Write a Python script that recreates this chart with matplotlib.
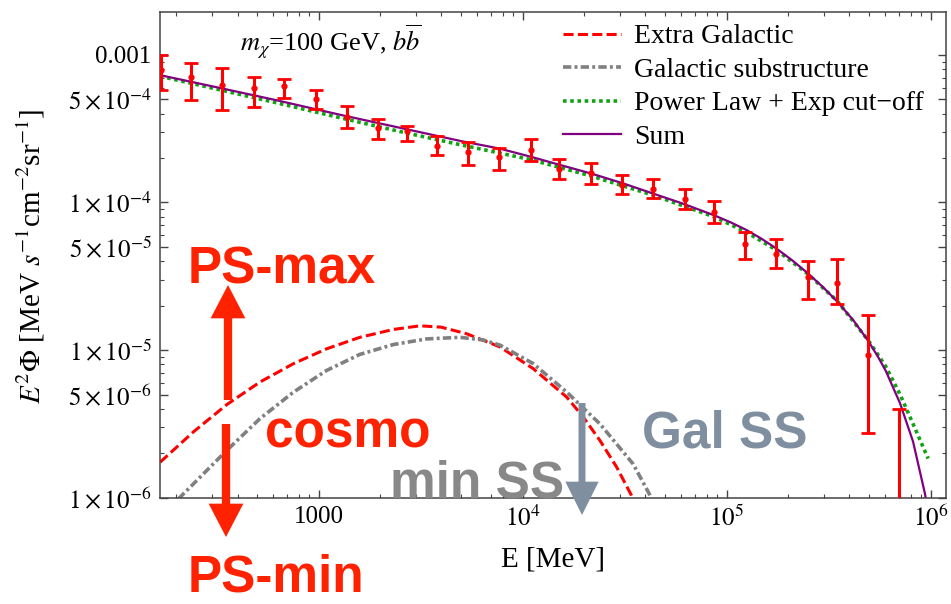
import numpy as np
import matplotlib
matplotlib.use('Agg')
import matplotlib.pyplot as plt
from matplotlib.ticker import FixedLocator, LogLocator, NullFormatter

plt.rcParams['font.family'] = ['Liberation Serif', 'DejaVu Serif']
plt.rcParams['mathtext.fontset'] = 'stix'

# IGRB data points (E in MeV, E^2 Phi and the ends of the error bars)
energy = [169, 237, 334, 480, 677, 966, 1377, 1946, 2709, 3802, 5413, 7674, 10940,
          15100, 21680, 30760, 43650, 62230, 86900, 123000, 174600, 251300, 346000,
          491000, 701000]
flux = [7.87e-4, 7.06e-4, 6.23e-4, 5.92e-4, 6.13e-4, 5.01e-4, 3.78e-4, 3.20e-4, 3.03e-4,
        2.40e-4, 2.21e-4, 2.03e-4, 2.26e-4, 1.68e-4, 1.59e-4, 1.32e-4, 1.24e-4, 1.05e-4,
        8.68e-5, 5.21e-5, 4.50e-5, 3.13e-5, 2.86e-5, 9.31e-6, 5.0e-7]
flux_lo = [5.76e-4, 4.98e-4, 4.20e-4, 4.44e-4, 5.11e-4, 4.28e-4, 3.17e-4, 2.67e-4, 2.59e-4,
           2.08e-4, 1.80e-4, 1.65e-4, 1.90e-4, 1.44e-4, 1.34e-4, 1.14e-4, 1.08e-4, 9.09e-5,
           7.26e-5, 4.12e-5, 3.60e-5, 2.23e-5, 2.04e-5, 2.75e-6, 1.0e-8]
flux_hi = [9.95e-4, 8.85e-4, 8.12e-4, 7.06e-4, 6.84e-4, 5.76e-4, 4.47e-4, 3.65e-4, 3.27e-4,
           2.83e-4, 2.55e-4, 2.34e-4, 2.68e-4, 1.96e-4, 1.86e-4, 1.53e-4, 1.44e-4, 1.24e-4,
           1.03e-4, 6.31e-5, 5.66e-5, 4.01e-5, 4.14e-5, 1.73e-5, 3.96e-6]

# model curves
eg_E = [167, 243, 354, 515, 752, 1094, 1592, 2323, 3141, 3981, 5309, 7745, 11272,
        16444, 19815, 23933, 28907, 34834, 41687]
eg_flux = [1.74e-6, 2.79e-6, 4.27e-6, 6.07e-6, 8.09e-6, 1.02e-5, 1.22e-5, 1.38e-5, 1.46e-5,
           1.43e-5, 1.29e-5, 1.05e-5, 7.48e-6, 4.80e-6, 3.52e-6, 2.44e-6, 1.61e-6, 9.84e-7,
           5.6e-7]

gal_E = [178, 205, 243, 354, 515, 752, 1094, 1592, 2323, 3381, 4932, 6412, 7745, 11272,
         16444, 23933, 34834, 42073, 47863]
gal_flux = [8.1e-7, 9.8e-7, 1.24e-6, 2.09e-6, 3.43e-6, 5.19e-6, 7.28e-6, 9.35e-6, 1.09e-5,
            1.19e-5, 1.22e-5, 1.17e-5, 1.08e-5, 8.09e-6, 5.19e-6, 3.16e-6, 1.69e-6, 1.04e-6,
            7.1e-7]

pl_E = [167, 316, 631, 1259, 2512, 5012, 10965, 21677, 43652, 87096, 124451, 176604,
        247742, 347536, 493174, 602560, 707946, 820352, 972747]
pl_flux = [7.16e-4, 5.86e-4, 4.71e-4, 3.76e-4, 3.02e-4, 2.45e-4, 1.95e-4, 1.51e-4, 1.12e-4,
           7.98e-5, 6.31e-5, 4.73e-5, 3.31e-5, 2.16e-5, 1.17e-5, 7.76e-6, 5.01e-6, 3.16e-6,
           1.84e-6]

sum_E = [167, 316, 631, 1259, 2512, 5012, 7674, 10965, 15136, 21677, 30903, 43652, 61660,
         87096, 104713, 124451, 147911, 176604, 208930, 247742, 295121, 347536, 416869,
         493174, 549541, 602560, 707946, 820352, 937562, 1047129]
sum_flux = [7.28e-4, 6.03e-4, 4.90e-4, 3.94e-4, 3.20e-4, 2.60e-4, 2.32e-4, 2.04e-4, 1.80e-4,
            1.57e-4, 1.35e-4, 1.148e-4, 9.77e-5, 8.17e-5, 7.33e-5, 6.53e-5, 5.69e-5, 4.84e-5,
            4.07e-5, 3.35e-5, 2.69e-5, 2.14e-5, 1.60e-5, 1.16e-5, 9.12e-6, 7.24e-6, 4.37e-6,
            2.40e-6, 1.07e-6, 4.47e-7]

yticks = [1e-6, 5e-6, 1e-5, 5e-5, 1e-4, 5e-4, 1e-3]
yticklabels = [r'$1\times10^{-6}$', r'$5\times10^{-6}$', r'$1\times10^{-5}$', r'$5\times10^{-5}$',
               r'$1\times10^{-4}$', r'$5\times10^{-4}$', '0.001']
xticks = [1e3, 1e4, 1e5, 1e6]
xticklabels = ['1000', r'$10^4$', r'$10^5$', r'$10^6$']

W, H = 951, 604


def fxy(x, y):
    # pixel position (from top left) -> figure fraction
    return x / W, 1 - y / H


def main():
    fig = plt.figure(figsize=(W / 100, H / 100), dpi=100)
    ax = fig.add_axes([160 / W, 1 - 497.7 / H, 786 / W, 485.7 / H])
    ax.set_xscale('log')
    ax.set_yscale('log')

    ax.plot(eg_E, eg_flux, color='red', lw=2.2, ls=(0, (3.3, 1.4)), label='Extra Galactic')
    ax.plot(gal_E, gal_flux, color='#808080', lw=2.6, ls=(0, (2.3, 0.9, 0.8, 0.9)),
            label='Galactic substructure')
    ax.plot(pl_E, pl_flux, color='#12a312', lw=2.6, ls=(0, (1, 1)),
            label='Power Law + Exp cut\u2212off')
    ax.plot(sum_E, sum_flux, color='#800080', lw=1.6, label='Sum')

    f = np.array(flux)
    yerr = [f - np.array(flux_lo), np.array(flux_hi) - f]
    ax.errorbar(energy, flux, yerr=yerr, fmt='o', ms=3.5, color='red', ecolor='red',
                elinewidth=2.2, capsize=5, capthick=2, zorder=5)

    ax.set_xlim(166.7, 1.19e6)
    ax.set_ylim(1e-6, 1.95e-3)
    ax.xaxis.set_major_locator(FixedLocator(xticks))
    ax.set_xticklabels(xticklabels)
    ax.xaxis.set_minor_locator(LogLocator(base=10, subs=np.arange(2, 10) * 1.0, numticks=30))
    ax.xaxis.set_minor_formatter(NullFormatter())
    ax.yaxis.set_major_locator(FixedLocator(yticks))
    ax.set_yticklabels(yticklabels)
    ax.yaxis.set_minor_locator(LogLocator(base=10, subs=[2., 3., 4., 6., 7., 8., 9.], numticks=30))
    ax.yaxis.set_minor_formatter(NullFormatter())
    ax.tick_params(which='both', direction='in', top=True, right=True, color='#444444')
    ax.tick_params(which='major', length=5.5, width=1, labelsize=18, pad=6)
    ax.tick_params(which='minor', length=3, width=0.8)
    for s in ax.spines.values():
        s.set_color('#444444')
        s.set_linewidth(1.1)

    ax.set_ylabel(r'$E^2\Phi$ [MeV $s^{-1}$cm$^{-2}$sr$^{-1}$]', fontsize=21)
    ax.yaxis.set_label_coords(-0.1438, 0.4976)
    ax.set_xlabel('E [MeV]', fontsize=21)
    ax.xaxis.set_label_coords(0.5, -0.1015)

    ax.text(0.2176, 0.920, r'$m_\chi$=100 GeV, $b\overline{b}$', transform=ax.transAxes,
            ha='center', va='baseline', fontsize=19)

    ax.legend(loc='upper left', bbox_to_anchor=fxy(563, 24), bbox_transform=fig.transFigure,
              frameon=False, fontsize=20, handlelength=2.1, handletextpad=0.45,
              labelspacing=0.29, borderpad=0, borderaxespad=0)

    # slide annotations
    red = '#ff2200'
    slate = '#7f8fa0'
    bold = dict(family='Liberation Sans', weight='bold', fontsize=37, va='baseline', ha='left',
                zorder=10)
    fig.text(*fxy(188, 283), 'PS-max', color=red, **bold)
    fig.text(*fxy(265, 447), 'cosmo', color=red, **bold)
    fig.text(*fxy(188, 603), 'PS-min', color=red, **dict(bold, va='bottom'))
    fig.text(*fxy(390, 498), 'min SS', color='#888888', **bold)
    fig.text(*fxy(642, 447), 'Gal SS', color=slate, **bold)

    def arrow(x0, y0, x1, y1, color, w, hw, hl):
        ax.annotate('', xy=fxy(x1, y1), xytext=fxy(x0, y0), xycoords='figure fraction',
                    textcoords='figure fraction', zorder=10,
                    arrowprops=dict(facecolor=color, edgecolor='none', width=w,
                                    headwidth=hw, headlength=hl, shrink=0))

    arrow(228, 400, 228, 285, red, 6, 25, 24)
    arrow(226, 424, 226, 537, red, 6, 25, 24)
    arrow(582, 403, 582, 515, slate, 5, 24, 24)

    fig.savefig('out.png', dpi=100)


if __name__ == "__main__":
    main()
